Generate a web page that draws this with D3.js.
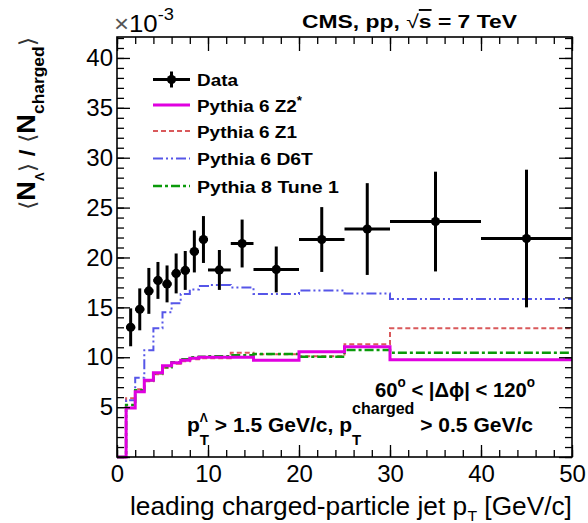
<!DOCTYPE html>
<html>
<head>
<meta charset="utf-8">
<script src="https://cdn.jsdelivr.net/npm/d3@7"></script>
<style>
  html, body { margin: 0; padding: 0; background: #fff; }
  svg { display: block; }
</style>
</head>
<body>
<svg id="chart" width="588" height="523"></svg>
<script>
// ---------------- DATA ----------------
const binEdges = [0, 1, 2, 3, 4, 5, 6, 7, 8, 9, 10, 12.5, 15, 20, 25, 30, 40, 50];
const pythia6Z2star = [0, 4.9, 6.55, 7.7, 8.45, 9.15, 9.45, 9.7, 9.9, 10.0, 10.0, 10.0, 9.7, 10.55, 11.05, 9.75, 9.75];
const pythia6Z1     = [0, 5.9, 6.8, 7.6, 8.3, 8.95, 9.35, 9.6, 9.8, 9.9, 9.9, 10.45, 10.3, 10.1, 11.3, 12.9, 12.9];
const pythia6D6T    = [0, 5.7, 7.95, 10.7, 12.9, 14.5, 15.4, 16.35, 16.8, 17.15, 17.25, 17.0, 16.35, 16.7, 16.4, 15.85, 15.85];
const pythia8Tune1  = [0, 5.2, 6.7, 7.7, 8.4, 9.0, 9.5, 9.8, 10.0, 10.05, 10.1, 10.2, 10.33, 10.06, 10.73, 10.46, 10.46];

const dataX    = [1.5, 2.5, 3.5, 4.5, 5.5, 6.5, 7.5, 8.5, 9.5, 11.25, 13.75, 17.5, 22.5, 27.5, 35, 45];
const dataXErr = [0.5, 0.5, 0.5, 0.5, 0.5, 0.5, 0.5, 0.5, 0.5, 1.25, 1.25, 2.5, 2.5, 2.5, 5, 5];
const dataY    = [13.0, 14.8, 16.65, 17.7, 17.35, 18.4, 18.7, 20.6, 21.8, 18.75, 21.4, 18.8, 21.8, 22.85, 23.6, 21.9];
const dataYErr = [1.9, 2.1, 2.3, 1.85, 1.85, 2.0, 1.95, 2.1, 2.35, 2.0, 2.4, 2.3, 3.25, 4.6, 5.0, 6.9];

const xMajorTicks = [0, 10, 20, 30, 40, 50];
const yMajorTicks = [0, 5, 10, 15, 20, 25, 30, 35, 40];

const legendLabels = ["Data", "Pythia 6 Z2", "Pythia 6 Z1", "Pythia 6 D6T", "Pythia 8 Tune 1"];

// ---------------- LAYOUT ----------------
const FONT = "'Liberation Sans', Arial, Helvetica, sans-serif";
const W = 588, H = 523;
const L = 117, R = 572, T = 37, B = 457;

const svg = d3.select("#chart");
const x = d3.scaleLinear().domain([0, 50]).range([L, R]);
const y = d3.scaleLinear().domain([0, 42.1]).range([B, T]);

const series = [
  { name: "Z1",  vals: pythia6Z1,     color: "#d9595b", width: 2,   dash: "5,3" },
  { name: "D6T", vals: pythia6D6T,    color: "#5656e8", width: 2,   dash: "10,3,2,3,2,3" },
  { name: "P8",  vals: pythia8Tune1,  color: "#0a9a0a", width: 2.5, dash: "9,3,3,3" },
  { name: "Z2*", vals: pythia6Z2star, color: "#e000e0", width: 3,   dash: null }
];

// rich text helper: sequential pieces, optional stacked sub/sup, optional horizontal width target
function rich(parent, o) {
  const g = parent.append("g");
  const inner = g.append("g");
  let cx = 0;
  for (const p of o.parts) {
    const items = p.stack || [p];
    let adv = 0;
    for (const q of items) {
      const t = inner.append("text")
        .attr("x", cx).attr("y", q.dy || 0)
        .attr("font-size", q.fs)
        .attr("font-weight", q.fw || o.fw || "normal")
        .attr("font-family", q.ff || FONT)
        .attr("fill", q.fill || "#000")
        .text(q.t);
      if (q.deco) t.attr("text-decoration", q.deco);
      adv = Math.max(adv, t.node().getComputedTextLength());
    }
    cx += adv;
  }
  const s = o.width ? o.width / cx : 1;
  const x0 = o.anchor === "end" ? -cx * s : 0;
  inner.attr("transform", `translate(${x0},0) scale(${s},1)`);
  g.attr("transform", `translate(${o.x},${o.y})` + (o.rotate ? ` rotate(${o.rotate})` : ""));
  return g;
}

// ---------------- MC HISTOGRAMS ----------------
const stepLine = d3.line().x(d => x(d.x)).y(d => y(d.v)).curve(d3.curveStepAfter);
const mcG = svg.append("g").attr("fill", "none");
series.forEach(s => {
  const pts = s.vals.map((v, i) => ({ x: binEdges[i], v }));
  pts.push({ x: binEdges[binEdges.length - 1], v: s.vals[s.vals.length - 1] });
  mcG.append("path")
    .attr("d", stepLine(pts))
    .attr("stroke", s.color)
    .attr("stroke-width", s.width)
    .attr("stroke-dasharray", s.dash);
});

// ---------------- DATA ----------------
const dG = svg.append("g");
const dat = dataX.map((v, i) => ({ x: v, xe: dataXErr[i], y: dataY[i], ye: dataYErr[i] }));
dG.selectAll("line.h").data(dat).join("line")
  .attr("x1", d => x(d.x - d.xe)).attr("x2", d => Math.min(x(d.x + d.xe), R))
  .attr("y1", d => y(d.y)).attr("y2", d => y(d.y))
  .attr("stroke", "#000").attr("stroke-width", 3);
dG.selectAll("line.v").data(dat).join("line")
  .attr("x1", d => x(d.x)).attr("x2", d => x(d.x))
  .attr("y1", d => y(d.y - d.ye)).attr("y2", d => y(d.y + d.ye))
  .attr("stroke", "#000").attr("stroke-width", 3);
dG.selectAll("circle").data(dat).join("circle")
  .attr("cx", d => x(d.x)).attr("cy", d => y(d.y)).attr("r", 4.6)
  .attr("fill", "#000");

// ---------------- AXES ----------------
function styleAxis(g) {
  g.select(".domain").remove();
  g.selectAll("line").attr("stroke", "#000").attr("stroke-width", 1.3);
  g.selectAll("text").attr("font-family", FONT).attr("font-size", 24).attr("fill", "#000");
}
const xMinor = d3.range(0, 50.01, 2);
const yMinor = d3.range(0, 42.01, 1);

svg.append("g").attr("transform", `translate(0,${B})`)
  .call(d3.axisBottom(x).tickValues(xMinor).tickSizeInner(-7).tickSizeOuter(0).tickFormat(""))
  .call(styleAxis);
svg.append("g").attr("transform", `translate(0,${B})`)
  .call(d3.axisBottom(x).tickValues(xMajorTicks).tickSizeInner(-12).tickSizeOuter(0).tickPadding(8).tickFormat(d3.format("d")))
  .call(styleAxis);
svg.append("g").attr("transform", `translate(0,${T})`)
  .call(d3.axisTop(x).tickValues(xMinor).tickSizeInner(-7).tickSizeOuter(0).tickFormat(""))
  .call(styleAxis);
svg.append("g").attr("transform", `translate(0,${T})`)
  .call(d3.axisTop(x).tickValues(xMajorTicks).tickSizeInner(-14).tickSizeOuter(0).tickFormat(""))
  .call(styleAxis);

svg.append("g").attr("transform", `translate(${L},0)`)
  .call(d3.axisLeft(y).tickValues(yMinor).tickSizeInner(-7).tickSizeOuter(0).tickFormat(""))
  .call(styleAxis);
svg.append("g").attr("transform", `translate(${L},0)`)
  .call(d3.axisLeft(y).tickValues(yMajorTicks).tickSizeInner(-13).tickSizeOuter(0).tickPadding(4)
        .tickFormat(d => d === 0 ? "" : d3.format("d")(d)))
  .call(styleAxis);
svg.append("g").attr("transform", `translate(${R},0)`)
  .call(d3.axisRight(y).tickValues(yMinor).tickSizeInner(-7).tickSizeOuter(0).tickFormat(""))
  .call(styleAxis);
svg.append("g").attr("transform", `translate(${R},0)`)
  .call(d3.axisRight(y).tickValues(yMajorTicks).tickSizeInner(-13).tickSizeOuter(0).tickFormat(""))
  .call(styleAxis);

svg.append("rect").attr("x", L).attr("y", T).attr("width", R - L).attr("height", B - T)
  .attr("fill", "none").attr("stroke", "#000").attr("stroke-width", 1.6);

// ---------------- TEXTS ----------------
// exponent
rich(svg, { x: 114, y: 32, width: 60, parts: [
  { t: "\u00D7", fs: 24, fill: "#555" },
  { t: "10", fs: 24 },
  { t: "-3", fs: 17, dy: -12 }
]});

// header
rich(svg, { x: 302, y: 28, width: 215, fw: "bold", parts: [
  { t: "CMS,\u00A0pp,\u00A0", fs: 19 },
  { t: "\u221A", fs: 19, fw: "normal" },
  { t: "s", fs: 19, deco: "overline" },
  { t: "\u00A0=\u00A07\u00A0TeV", fs: 19 }
]});

// y title (rotated)
const BR = "'DejaVu Sans', sans-serif";
rich(svg, { x: 35, y: 210, rotate: -90, width: 173, fw: "bold", parts: [
  { t: "\u27E8", fs: 22, ff: BR, fw: "normal", fill: "#333" },
  { t: "N", fs: 25 },
  { t: "\u039B", fs: 12, dy: 9 },
  { t: "\u27E9", fs: 22, ff: BR, fw: "normal", fill: "#333" },
  { t: "\u00A0/\u00A0", fs: 22 },
  { t: "\u27E8", fs: 22, ff: BR, fw: "normal", fill: "#333" },
  { t: "N", fs: 25 },
  { t: "charged", fs: 16, dy: 9 },
  { t: "\u27E9", fs: 22, ff: BR, fw: "normal", fill: "#333" }
]});

// x title
rich(svg, { x: 572, y: 515, anchor: "end", width: 442, parts: [
  { t: "leading charged-particle jet p", fs: 25 },
  { t: "T", fs: 15, dy: 6 },
  { t: "\u00A0[GeV/c]", fs: 25 }
]});

// annotations
rich(svg, { x: 375, y: 397, width: 160, fw: "bold", parts: [
  { t: "60", fs: 21 },
  { t: "o", fs: 14, dy: -10 },
  { t: "\u00A0<\u00A0|\u0394\u03D5|\u00A0<\u00A0120", fs: 21 },
  { t: "o", fs: 14, dy: -10 }
]});
rich(svg, { x: 187, y: 431.7, width: 346, fw: "bold", parts: [
  { t: "p", fs: 21 },
  { stack: [{ t: "T", fs: 15, dy: 13 }, { t: "\u039B", fs: 12, dy: -10 }] },
  { t: "\u00A0>\u00A01.5\u00A0GeV/c,\u00A0p", fs: 21 },
  { stack: [{ t: "T", fs: 15, dy: 13 }, { t: "charged", fs: 16, dy: -18 }] },
  { t: "\u00A0>\u00A00.5\u00A0GeV/c", fs: 21 }
]});

// ---------------- LEGEND ----------------
const legRows = [79.5, 105, 131, 158.5, 186];
const legTextWidths = [41, 105, 100, 116, 142];
const lx1 = 153, lx2 = 190, ltx = 197;
const lg = svg.append("g");
// data entry
lg.append("line").attr("x1", lx1).attr("x2", lx2).attr("y1", legRows[0]).attr("y2", legRows[0])
  .attr("stroke", "#000").attr("stroke-width", 3);
lg.append("line").attr("x1", (lx1 + lx2) / 2).attr("x2", (lx1 + lx2) / 2)
  .attr("y1", legRows[0] - 8).attr("y2", legRows[0] + 8).attr("stroke", "#000").attr("stroke-width", 3);
lg.append("circle").attr("cx", (lx1 + lx2) / 2).attr("cy", legRows[0]).attr("r", 4.6).attr("fill", "#000");
// mc entries, in legend order Z2*, Z1, D6T, P8
const legOrder = ["Z2*", "Z1", "D6T", "P8"];
legOrder.forEach((nm, i) => {
  const s = series.find(d => d.name === nm);
  lg.append("line").attr("x1", lx1).attr("x2", lx2).attr("y1", legRows[i + 1]).attr("y2", legRows[i + 1])
    .attr("stroke", s.color).attr("stroke-width", s.width).attr("stroke-dasharray", s.dash);
});
legendLabels.forEach((lab, i) => {
  const parts = [{ t: lab.replace(/ /g, "\u00A0"), fs: 17 }];
  if (i === 1) parts.push({ t: "*", fs: 12, dy: -7 });
  rich(lg, { x: ltx, y: legRows[i] + 6.5, width: legTextWidths[i], fw: "bold", parts });
});
</script>
</body>
</html>
